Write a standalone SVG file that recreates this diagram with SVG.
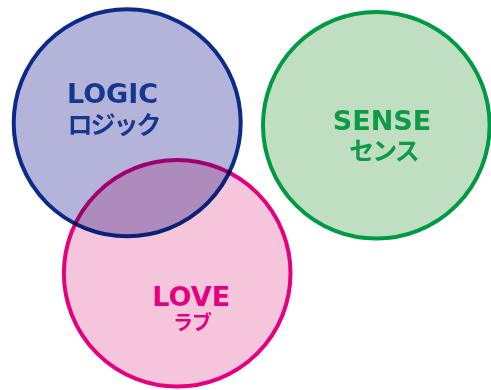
<svg xmlns="http://www.w3.org/2000/svg" width="491" height="390" viewBox="0 0 491 390">
<style>
.c{stroke-width:4;mix-blend-mode:multiply}
.t{font-weight:bold;text-anchor:middle}
.en{font-family:"DejaVu Sans","Liberation Sans",sans-serif;font-size:27px}
.jp{font-family:"Noto Sans CJK JP",sans-serif}
</style>
<rect width="491" height="390" fill="#ffffff"/>
<g id="logic">
<circle class="c" cx="127.2" cy="122.8" r="113.5" fill="#b4b4db" stroke="#0b2a8a"/>
<text class="t" fill="#15388e"><tspan class="en" x="112.5" y="102.7">LOGIC</tspan><tspan class="jp" x="113.5" y="133.5" font-size="25" letter-spacing="-2">ロジック</tspan></text>
</g>
<g id="sense">
<circle class="c" cx="376.3" cy="125.3" r="113.3" fill="#c0dfc2" stroke="#009a44"/>
<text class="t" fill="#0f9a48"><tspan class="en" x="382" y="130">SENSE</tspan><tspan class="jp" x="383.5" y="160" font-size="25" letter-spacing="-2">センス</tspan></text>
</g>
<g id="love">
<circle class="c" cx="177.2" cy="273.3" r="113.3" fill="#f5c5dc" stroke="#e4007f"/>
<text class="t" fill="#e4007f"><tspan class="en" x="191.2" y="305.7">LOVE</tspan><tspan class="jp" x="192" y="330" font-size="20" letter-spacing="-1">ラブ</tspan></text>
</g>
<g id="connectors"></g>
</svg>
